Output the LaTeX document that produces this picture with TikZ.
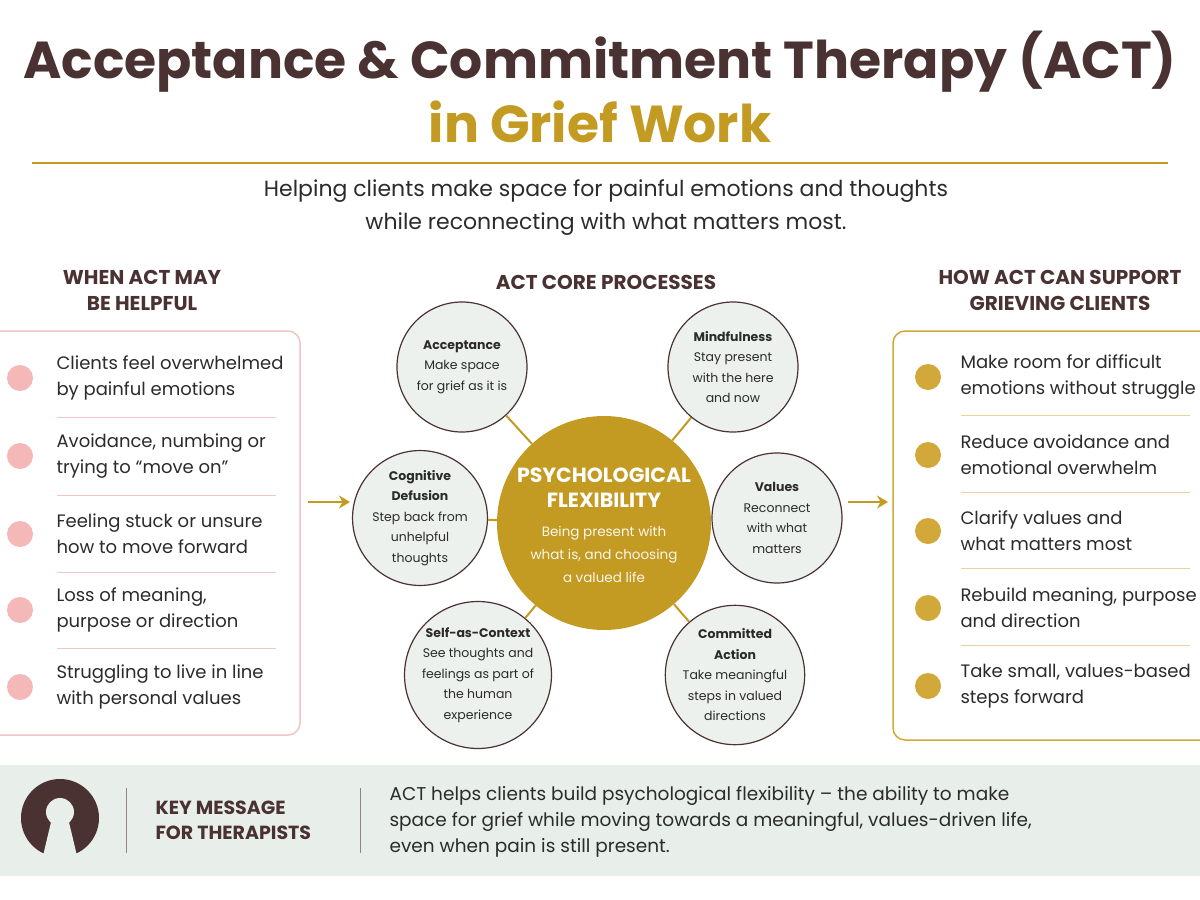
\documentclass[tikz,border=0pt]{standalone}
\usepackage{fontspec}
\setmainfont{Poppins}
\usetikzlibrary{positioning,arrows.meta}
\definecolor{brown}{HTML}{4A3232}
\definecolor{gold}{HTML}{C39B22}
\definecolor{pinkdot}{HTML}{F5B8B8}
\definecolor{pinkline}{HTML}{F2C4C4}
\definecolor{golddot}{HTML}{D2A83A}
\definecolor{satfill}{HTML}{EDF1EE}
\definecolor{band}{HTML}{E8EFEB}
\definecolor{txt}{HTML}{2B2B2B}
\tikzset{
  proc/.style={circle,draw=brown,line width=1.2pt,fill=satfill,minimum size=130pt,inner sep=0pt,align=center,font=\fontsize{12.5}{20.5}\selectfont,text=txt},
  link/.style={gold,line width=2pt},
  item/.style={anchor=west,align=left,font=\fontsize{18}{26}\selectfont,text=txt},
  head/.style={align=center,font=\fontsize{20}{26}\bfseries\selectfont,text=brown},
  sep/.style={pinkline,line width=0.8pt},
  gsep/.style={golddot!50,line width=0.8pt},
  arr/.style={gold,line width=2.6pt,-{Stealth[length=11pt,width=13pt]}},
}
\begin{document}
\begin{tikzpicture}[x=1pt,y=-1pt]
\useasboundingbox[fill=white] (0,0) rectangle (1200,900);
% title
\node (t1) at (600,62) {\fontsize{52}{56}\bfseries\selectfont\color{brown}Acceptance \& Commitment Therapy (ACT)};
\node (t2) at (600,122) {\fontsize{52}{56}\bfseries\selectfont\color{gold}in Grief Work};
\draw[gold,line width=1.2pt] (32,163) -- (1168,163);
\node[align=center,font=\fontsize{22}{33}\selectfont,text=txt] (sub) at (606,208) {Helping clients make space for painful emotions and thoughts\\while reconnecting with what matters most.};
% headings
\node[head] (hl) at (142,290) {WHEN ACT MAY\\BE HELPFUL};
\node[head] (hm) at (606,282) {ACT CORE PROCESSES};
\node[head] (hr) at (1060,290) {HOW ACT CAN SUPPORT\\GRIEVING CLIENTS};
% left box
\draw[pinkline,line width=1.5pt,rounded corners=12pt] (-20,331) rectangle (300,735);
\foreach \y/\txt in {378/{Clients feel overwhelmed\\by painful emotions},
                     456/{Avoidance, numbing or\\trying to “move on”},
                     534/{Feeling stuck or unsure\\how to move forward},
                     610/{Loss of meaning,\\purpose or direction},
                     687/{Struggling to live in line\\with personal values}}{
  \fill[pinkdot] (20,\y) circle (13);
  \node[item] at (53,\y) {\txt};
}
\foreach \y in {417,495,572,648} \draw[sep] (57,\y) -- (276,\y);
% right box
\draw[golddot,line width=1.5pt,rounded corners=12pt] (893,331) rectangle (1220,740);
\foreach \y/\txt in {377/{Make room for difficult\\emotions without struggle},
                     455/{Reduce avoidance and\\emotional overwhelm},
                     531/{Clarify values and\\what matters most},
                     608/{Rebuild meaning, purpose\\and direction},
                     686/{Take small, values-based\\steps forward}}{
  \fill[golddot] (928,\y) circle (13);
  \node[item] at (957,\y) {\txt};
}
\foreach \y in {415,492,568,645} \draw[gsep] (961,\y) -- (1190,\y);
% core processes
\node[circle,fill=gold,minimum size=214pt,inner sep=0pt,align=center] (core) at (604,523) {};
\node[align=center,text=white,font=\fontsize{20.5}{25}\bfseries\selectfont] (cT) at (604,488) {PSYCHOLOGICAL\\FLEXIBILITY};
\node[align=center,text=white!92!gold,font=\fontsize{13.5}{23}\selectfont] (cS) at (604,554) {Being present with\\what is, and choosing\\a valued life};
\node[proc] (acc) at (462,367) {\textbf{Acceptance}\\Make space\\for grief as it is};
\node[proc] (mind) at (733,367) {\textbf{Mindfulness}\\Stay present\\with the here\\and now};
\node[proc] (def) at (420,518) {\textbf{Cognitive}\\\textbf{Defusion}\\Step back from\\unhelpful\\thoughts};
\node[proc] (val) at (777,518) {\textbf{Values}\\Reconnect\\with what\\matters};
\node[proc] (self) at (478,675) {\textbf{Self-as-Context}\\See thoughts and\\feelings as part of\\the human\\experience};
\node[proc] (com) at (735,675) {\textbf{Committed}\\\textbf{Action}\\Take meaningful\\steps in valued\\directions};
\foreach \n in {acc,mind,def,val,self,com} \draw[link] (core) -- (\n);
% arrows
\coordinate (la) at (308,502);
\coordinate (lb) at (350,502);
\coordinate (ra) at (848,502);
\coordinate (rb) at (888,502);
\draw[arr] (la) -- (lb);
\draw[arr] (ra) -- (rb);
% key message band
\fill[band,rounded corners=8pt] (-10,765) rectangle (1210,876);
\fill[brown] (60,818) circle (39);
\fill[band] (60,812) circle (14);
\fill[band] (52,818) -- (68,818) -- (78,860) -- (42,860) -- cycle;
\draw[brown!60,line width=1pt] (126,788) -- (126,853);
\draw[brown!60,line width=1pt] (360,788) -- (360,853);
\node[anchor=west,align=left,font=\fontsize{19}{25}\bfseries\selectfont,text=brown] (key) at (152,820) {KEY MESSAGE\\FOR THERAPISTS};
\node[anchor=west,align=left,font=\fontsize{18.5}{26}\selectfont,text=txt] (msg) at (386,822) {ACT helps clients build psychological flexibility – the ability to make\\space for grief while moving towards a meaningful, values-driven life,\\even when pain is still present.};
\end{tikzpicture}
\end{document}
